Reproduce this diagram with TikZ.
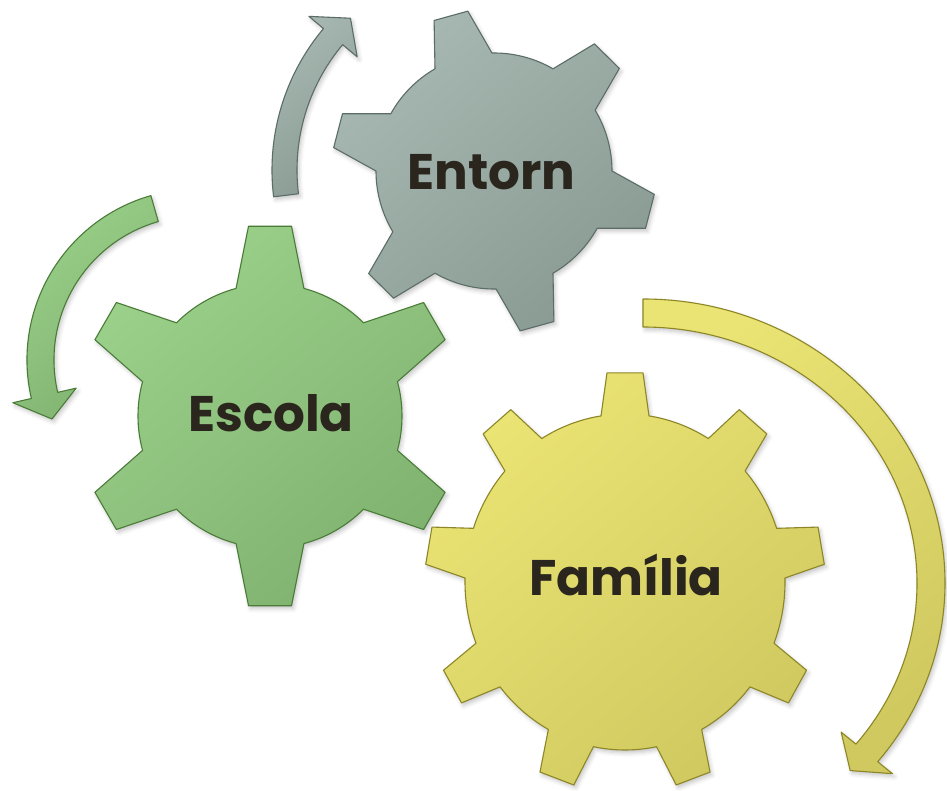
\documentclass[tikz,border=0pt]{standalone}
\usepackage{fontspec}
\newfontfamily\gearfont{Poppins}
\usetikzlibrary{shadows.blur}
\definecolor{yelL}{RGB}{234,228,116}
\definecolor{yelD}{RGB}{208,201,96}
\definecolor{yelE}{RGB}{140,134,38}
\definecolor{grnL}{RGB}{154,208,138}
\definecolor{grnD}{RGB}{128,178,112}
\definecolor{grnE}{RGB}{74,124,56}
\definecolor{gryL}{RGB}{166,184,177}
\definecolor{gryD}{RGB}{138,155,148}
\definecolor{gryE}{RGB}{92,108,102}
\definecolor{txt}{RGB}{42,38,30}
\tikzset{
  shadowed/.style={blur shadow={shadow xshift=2pt, shadow yshift=-3pt, shadow blur radius=4pt, shadow opacity=22}},
  gearbase/.style={line width=1.1pt, line join=round, shadowed},
  yellowfill/.style={gearbase, draw=yelE, top color=yelL, bottom color=yelD, shading angle=40},
  greenfill/.style={gearbase, draw=grnE, top color=grnL, bottom color=grnD, shading angle=40},
  grayfill/.style={gearbase, draw=gryE, top color=gryL, bottom color=gryD, shading angle=40},
  gearlabel/.style={font=\gearfont\bfseries\fontsize{50}{56}\selectfont, text=txt, anchor=base, inner sep=0pt},
  gearpath/.style n args={6}{insert path={
    ({#2-#6}:#4)
    \foreach \k in {1,...,#1}{
      -- ({#2+(\k-1)*360/#1-#5}:#3) -- ({#2+(\k-1)*360/#1+#5}:#3)
      -- ({#2+(\k-1)*360/#1+#6}:#4)
      arc[start angle={#2+(\k-1)*360/#1+#6}, end angle={#2+\k*360/#1-#6}, radius=#4]
    } -- cycle}}
}
\begin{document}
\begin{tikzpicture}[x=1pt, y=1pt]
\useasboundingbox (0,0) rectangle (947,790);

% ---- circular arrows ----
% green (Escola), counter-clockwise
\begin{scope}[shift={(198,430)}]
  \path[greenfill] (106:171) arc[start angle=106, end angle=193, radius=171]
     -- (193:190) -- (202:157.5) -- (193:125) -- (193:144)
     arc[start angle=193, end angle=106, radius=144] -- cycle;
\end{scope}
% gray (Entorn), clockwise
\begin{scope}[shift={(492,620)}]
  \path[grayfill] (187:220) arc[start angle=187, end angle=140, radius=220]
     -- (140:239) -- (133:207.5) -- (140:176) -- (140:195)
     arc[start angle=140, end angle=187, radius=195] -- cycle;
\end{scope}
% yellow (Familia), clockwise
\begin{scope}[shift={(643,207)}]
  \path[yellowfill] (90:302 and 284) arc[start angle=90, end angle=-39, x radius=302, y radius=284]
     -- (-39:321 and 303) -- (-44:288 and 270) -- (-39:255 and 237) -- (-39:274 and 256)
     arc[start angle=-39, end angle=90, x radius=274, y radius=256] -- cycle;
\end{scope}

% ---- gears ----
\begin{scope}[shift={(270,374)}]
  \path[greenfill, gearpath={6}{90}{191}{132}{6.46}{14.9}];
\end{scope}
\begin{scope}[shift={(494,619)}]
  \path[grayfill, gearpath={6}{105.5}{162}{118}{6.2}{14.5}];
\end{scope}
\begin{scope}[shift={(625,208)}, yscale=1.05]
  \path[yellowfill, gearpath={9}{90}{200}{160}{5.16}{8.63}];
\end{scope}

% ---- labels ----
\node[gearlabel] (escola) at (271,358) {Escola};
\node[gearlabel] (entorn) at (491.5,600) {Entorn};
\node[gearlabel] (familia) at (626,195) {Família};
\end{tikzpicture}
\end{document}
